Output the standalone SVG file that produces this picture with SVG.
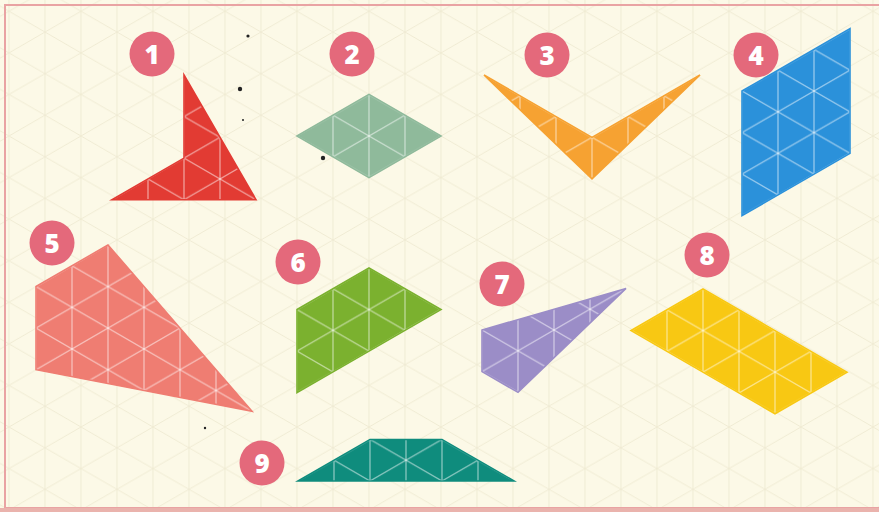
<svg xmlns="http://www.w3.org/2000/svg" width="879" height="512" viewBox="0 0 879 512">
<defs>
<pattern id="tri" patternUnits="userSpaceOnUse" x="0" y="0" width="72" height="41.569">
<g stroke="#ffffff" stroke-opacity="0.5" stroke-width="1.3" fill="none">
<path d="M0,-5V47M36,-5V47M72,-5V47"/>
<path d="M-36,-62.35L108,20.78M-36,-20.78L108,62.35M-36,20.78L108,103.92"/>
<path d="M-36,20.78L108,-62.35M-36,62.35L108,-20.78M-36,103.92L108,20.78"/>
</g>
</pattern>
<pattern id="bg" patternUnits="userSpaceOnUse" x="297" y="136" width="72" height="41.569">
<g stroke="#eeead2" stroke-width="0.9" fill="none">
<path d="M0,-5V47M36,-5V47M72,-5V47"/>
<path d="M-36,-62.35L108,20.78M-36,-20.78L108,62.35M-36,20.78L108,103.92"/>
<path d="M-36,20.78L108,-62.35M-36,62.35L108,-20.78M-36,103.92L108,20.78"/>
</g>
</pattern>
<style>
.lab circle{fill:#e4697b}
.lab text{fill:#ffffff;font-family:"Open Sans","DejaVu Sans",sans-serif;font-weight:800;font-size:26px;text-anchor:middle}
.s polygon{fill:currentColor}
.s .g{fill:url(#tri)}
.s .o{fill:none;stroke:currentColor;stroke-width:1.6;stroke-linejoin:miter}
.dot{fill:#222}
</style>
</defs>
<rect x="0" y="0" width="879" height="512" fill="#fcf9e7"/>
<rect x="0" y="0" width="879" height="512" fill="url(#bg)"/>
<rect x="5" y="5" width="884" height="503" fill="none" stroke="#e9a3a3" stroke-width="2"/>
<rect x="0" y="508" width="879" height="4" fill="#eab3ad"/>

<g id="n1">
<g class="lab"><circle cx="152" cy="54" r="22.5"/><text x="152" y="63.5">1</text></g>
<g class="s" color="#e23b33" transform="translate(184,75)"><polygon points="0,0 72,124.71 -72,124.71 0,83.14"/><polygon class="g" points="0,0 72,124.71 -72,124.71 0,83.14"/><polygon class="o" points="0,0 72,124.71 -72,124.71 0,83.14"/></g>
</g>
<g id="n2">
<g class="lab"><circle cx="352" cy="54" r="22.5"/><text x="352" y="63.5">2</text></g>
<g class="s" color="#8fba9b" transform="translate(297,136)"><polygon points="0,0 72,-41.57 144,0 72,41.57"/><polygon class="g" points="0,0 72,-41.57 144,0 72,41.57"/><polygon class="o" points="0,0 72,-41.57 144,0 72,41.57"/></g>
</g>
<g id="n3">
<g class="lab"><circle cx="547" cy="55" r="22.5"/><text x="547" y="64.5">3</text></g>
<g class="s" color="#f6a232" transform="translate(484,75)"><polygon points="0,0 108,62.35 216,0 108,103.92"/><polygon class="g" points="0,0 108,62.35 216,0 108,103.92"/><polygon class="o" points="0,0 108,62.35 216,0 108,103.92"/></g>
</g>
<g id="n4">
<g class="lab"><circle cx="756" cy="55" r="22.5"/><text x="756" y="64.5">4</text></g>
<g class="s" color="#2b91da" transform="translate(742,91)"><polygon points="0,0 108,-62.35 108,62.35 0,124.71"/><polygon class="g" points="0,0 108,-62.35 108,62.35 0,124.71"/><polygon class="o" points="0,0 108,-62.35 108,62.35 0,124.71"/></g>
</g>
<g id="n5">
<g class="lab"><circle cx="52" cy="243" r="22.5"/><text x="52" y="252.5">5</text></g>
<g class="s" color="#ef7d72" transform="translate(108,245)"><polygon points="0,0 -72,41.57 -72,124.71 144,166.28"/><polygon class="g" points="0,0 -72,41.57 -72,124.71 144,166.28"/><polygon class="o" points="0,0 -72,41.57 -72,124.71 144,166.28"/></g>
</g>
<g id="n6">
<g class="lab"><circle cx="298" cy="262" r="22.5"/><text x="298" y="271.5">6</text></g>
<g class="s" color="#7bb12f" transform="translate(369,268)"><polygon points="0,0 72,41.57 -72,124.71 -72,41.57"/><polygon class="g" points="0,0 72,41.57 -72,124.71 -72,41.57"/><polygon class="o" points="0,0 72,41.57 -72,124.71 -72,41.57"/></g>
</g>
<g id="n7">
<g class="lab"><circle cx="502" cy="284" r="22.5"/><text x="502" y="293.5">7</text></g>
<g class="s" color="#9b8dc7" transform="translate(482,330)"><polygon points="0,0 144,-41.57 36,62.35 0,41.57"/><polygon class="g" points="0,0 144,-41.57 36,62.35 0,41.57"/><polygon class="o" points="0,0 144,-41.57 36,62.35 0,41.57"/></g>
</g>
<g id="n8">
<g class="lab"><circle cx="707" cy="255" r="22.5"/><text x="707" y="264.5">8</text></g>
<g class="s" color="#f8c813" transform="translate(703,289)"><polygon points="0,0 -72,41.57 72,124.71 144,83.14"/><polygon class="g" points="0,0 -72,41.57 72,124.71 144,83.14"/><polygon class="o" points="0,0 -72,41.57 72,124.71 144,83.14"/></g>
</g>
<g id="n9">
<g class="lab"><circle cx="262" cy="463" r="22.5"/><text x="262" y="472.5">9</text></g>
<g class="s" color="#0f8c7d" transform="translate(298,481)"><polygon points="0,0 72,-41.57 144,-41.57 216,0"/><polygon class="g" points="0,0 72,-41.57 144,-41.57 216,0"/><polygon class="o" points="0,0 72,-41.57 144,-41.57 216,0"/></g>
</g>

<g id="specks">
<circle class="dot" cx="248" cy="36" r="1.6"/>
<circle class="dot" cx="240" cy="89" r="2.2"/>
<circle class="dot" cx="243" cy="120" r="1"/>
<circle class="dot" cx="323" cy="158" r="2.2"/>
<circle class="dot" cx="205" cy="428" r="1.2"/>
</g>
</svg>
